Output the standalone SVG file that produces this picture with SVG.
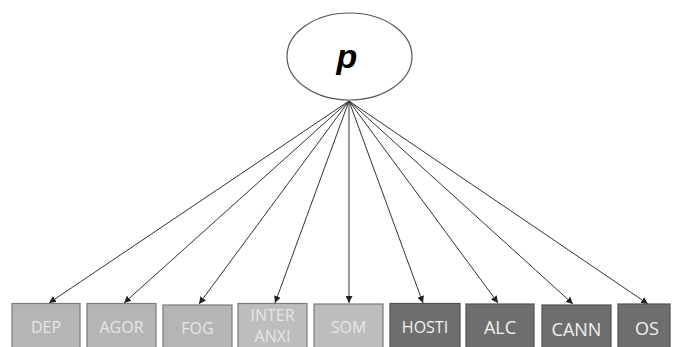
<svg xmlns="http://www.w3.org/2000/svg" width="675" height="347" viewBox="0 0 675 347">
<style>
.light rect{fill:#b5b5b5;stroke:#7a7a7a;stroke-width:1.2}
.dark rect{fill:#6e6e6e;stroke:#505050;stroke-width:1.2}
.lab{font-family:"Open Sans","Liberation Sans",sans-serif;font-size:16px;text-anchor:middle}
.big{font-size:18px}
.light text{fill:#e6e6e6}
.dark text{fill:#f2f2f2}
#edges line{stroke:#333;stroke-width:1;marker-end:url(#ah)}
</style>
<defs>
<marker id="ah" viewBox="0 0 10 10" refX="10" refY="5" markerWidth="7" markerHeight="7" markerUnits="userSpaceOnUse" orient="auto">
<path d="M0,0 L10,5 L0,10 z" fill="#222"/>
</marker>
</defs>
<rect width="675" height="347" fill="#fff"/>
<g id="p">
<ellipse cx="349.5" cy="56.5" rx="62.5" ry="43.5" fill="#fff" stroke="#555" stroke-width="1.2"/>
<text x="347" y="68" font-family="'Liberation Sans',Arial,sans-serif" font-size="34" font-weight="bold" font-style="italic" text-anchor="middle" fill="#000">p</text>
</g>
<g id="edges">
<line x1="349" y1="101" x2="49" y2="303"/>
<line x1="349" y1="101" x2="124" y2="303"/>
<line x1="349" y1="101" x2="199" y2="304"/>
<line x1="349" y1="101" x2="275" y2="303"/>
<line x1="349" y1="101" x2="349" y2="303"/>
<line x1="349" y1="101" x2="423" y2="303"/>
<line x1="349" y1="101" x2="498" y2="303"/>
<line x1="349" y1="101" x2="573" y2="304"/>
<line x1="349" y1="101" x2="648" y2="304"/>
</g>
<g id="DEP" class="light"><rect x="12" y="303.5" width="68" height="50"/><text class="lab" x="46" y="333">DEP</text></g>
<g id="AGOR" class="light"><rect x="87" y="303.5" width="69" height="50"/><text class="lab" x="121.5" y="333">AGOR</text></g>
<g id="FOG" class="light"><rect x="163" y="305" width="69" height="50"/><text class="lab" x="197.5" y="334">FOG</text></g>
<g id="INTERANXI" class="light"><rect x="238" y="303.5" width="69" height="50" style="fill:#bdbdbd"/><text class="lab" x="272.5" y="321">INTER</text><text class="lab" x="272.5" y="342">ANXI</text></g>
<g id="SOM" class="light"><rect x="314" y="304" width="69" height="50" style="fill:#bdbdbd"/><text class="lab" x="348.5" y="333">SOM</text></g>
<g id="HOSTI" class="dark"><rect x="390" y="303.5" width="70" height="50"/><text class="lab" x="425" y="333">HOSTI</text></g>
<g id="ALC" class="dark"><rect x="466" y="304" width="68" height="50"/><text class="lab big" x="500" y="334">ALC</text></g>
<g id="CANN" class="dark"><rect x="542" y="305" width="69" height="50"/><text class="lab big" x="576.5" y="335.5">CANN</text></g>
<g id="OS" class="dark"><rect x="618" y="304" width="52" height="50"/><text class="lab big" x="647" y="335">OS</text></g>
</svg>
